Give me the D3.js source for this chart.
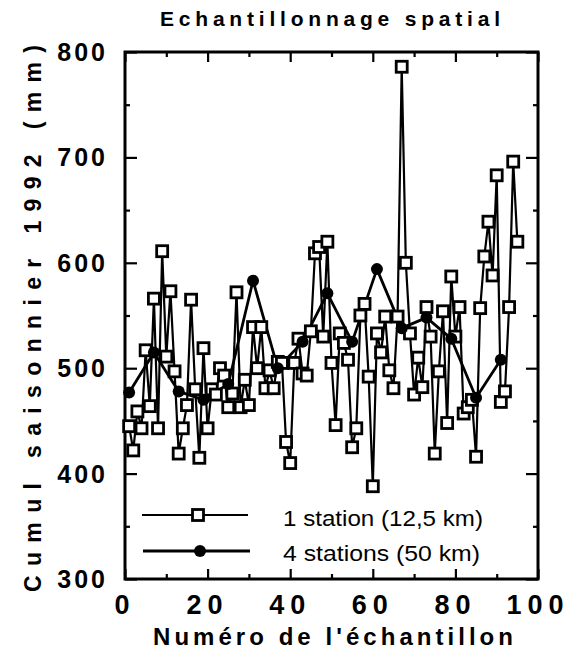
<!DOCTYPE html>
<html><head><meta charset="utf-8">
<script src="https://cdn.jsdelivr.net/npm/d3@7"></script>
<style>body{margin:0;background:#fff}svg{display:block}</style>
</head><body>
<script>
// ---- data ----
const title = "Echantillonnage  spatial";
const xTitle = "Numéro de l'échantillon";
const yTitle = "Cumul saisonnier 1992 (mm)";
const xTicks = [0, 20, 40, 60, 80, 100];
const xMinorTicks = [10, 30, 50, 70, 90];
const yTicks = [300, 400, 500, 600, 700, 800];
const yMinorTicks = [350, 450, 550, 650, 750];
const seriesNames = ["1 station (12,5 km)", "4 stations (50 km)"];
// 1 station: sample number 1..95
const oneStation = [445,422,459,443,517,464,566,443,611,511,573,497,419,443,465,565,480,415,519,443,
  480,475,500,493,463,476,572,463,489,465,539,500,539,481,498,481,506,505,430,410,
  505,528,495,493,535,609,615,530,620,505,446,533,524,508,425,443,550,561,492,388,
  533,515,549,498,481,549,786,600,533,475,510,482,558,530,419,497,554,448,587,530,
  558,457,463,470,416,557,606,639,588,683,468,478,558,696,620];
// 4 stations
const fourSamples = [1,7,13,19,25,31,37,43,49,55,61,67,73,79,85,91];
const fourStations = [477,515,478,470,485,583,500,525,571,525,594,538,548,528,472,508];

const W = 570, H = 656;
const svg = d3.select("body").append("svg").attr("width", W).attr("height", H);
const x = d3.scaleLinear().domain([0, 100]).range([125, 538]);
const y = d3.scaleLinear().domain([300, 800]).range([579, 52]);
const font = "'Liberation Sans', Arial, Helvetica, sans-serif";

// ticks (inward) on all four sides
function ticks(axis, tr) {
  const g = svg.append("g").attr("transform", tr).call(axis);
  g.select(".domain").remove();
  g.selectAll("text").remove();
  g.selectAll("line").attr("stroke", "#000").attr("stroke-width", 2.2);
}
ticks(d3.axisBottom(x).tickValues(xTicks).tickSize(-10), `translate(0,${y(300)})`);
ticks(d3.axisBottom(x).tickValues(xMinorTicks).tickSize(-5), `translate(0,${y(300)})`);
ticks(d3.axisTop(x).tickValues(xTicks).tickSize(-10), `translate(0,${y(800)})`);
ticks(d3.axisTop(x).tickValues(xMinorTicks).tickSize(-5), `translate(0,${y(800)})`);
ticks(d3.axisLeft(y).tickValues(yTicks).tickSize(-12), `translate(${x(0)},0)`);
ticks(d3.axisLeft(y).tickValues(yMinorTicks).tickSize(-5), `translate(${x(0)},0)`);
ticks(d3.axisRight(y).tickValues(yTicks).tickSize(-12), `translate(${x(100)},0)`);
ticks(d3.axisRight(y).tickValues(yMinorTicks).tickSize(-5), `translate(${x(100)},0)`);

// frame
svg.append("rect").attr("x", x(0)).attr("y", y(800))
  .attr("width", x(100) - x(0)).attr("height", y(300) - y(800))
  .attr("fill", "none").attr("stroke", "#000").attr("stroke-width", 3);

// tick labels
svg.selectAll(".ylab").data(yTicks).join("text")
  .attr("x", 108).attr("y", d => y(d)).attr("dy", "0.36em")
  .attr("text-anchor", "end").attr("font-family", font).attr("font-weight", "bold")
  .attr("font-size", 25).attr("letter-spacing", 3).text(d => d);
svg.selectAll(".xlab").data(xTicks).join("text")
  .attr("x", d => x(d)).attr("y", 614)
  .attr("text-anchor", "middle").attr("font-family", font).attr("font-weight", "bold")
  .attr("font-size", 27).attr("letter-spacing", 6).text(d => d);

// titles
svg.append("text").attr("x", 160).attr("y", 26).attr("font-family", font)
  .attr("font-weight", "bold").attr("font-size", 21)
  .attr("textLength", 340).attr("lengthAdjust", "spacing").text(title);
svg.append("text").attr("x", 153).attr("y", 645).attr("font-family", font)
  .attr("font-weight", "bold").attr("font-size", 24)
  .attr("textLength", 360).attr("lengthAdjust", "spacing").text(xTitle);
svg.append("text").attr("transform", "translate(41,592) rotate(-90)")
  .attr("font-family", font).attr("font-weight", "bold").attr("font-size", 23)
  .attr("textLength", 547).attr("lengthAdjust", "spacing").text(yTitle);

// series
const d1 = oneStation.map((v, i) => [i + 1, v]);
const d2 = fourSamples.map((s, i) => [s, fourStations[i]]);
const line = d3.line().x(d => x(d[0])).y(d => y(d[1]));
svg.append("path").datum(d1).attr("d", line).attr("fill", "none")
  .attr("stroke", "#000").attr("stroke-width", 2.2).attr("stroke-linejoin", "round");
svg.append("path").datum(d2).attr("d", line).attr("fill", "none")
  .attr("stroke", "#000").attr("stroke-width", 2.8).attr("stroke-linejoin", "round");
const sq = 11;
svg.selectAll(".sq").data(d1).join("rect")
  .attr("x", d => x(d[0]) - sq / 2).attr("y", d => y(d[1]) - sq / 2)
  .attr("width", sq).attr("height", sq)
  .attr("fill", "#fff").attr("stroke", "#000").attr("stroke-width", 2.8);
svg.selectAll(".ci").data(d2).join("circle")
  .attr("cx", d => x(d[0])).attr("cy", d => y(d[1])).attr("r", 6).attr("fill", "#000");

// legend
const lg = svg.append("g");
lg.append("line").attr("x1", 142).attr("x2", 248).attr("y1", 515).attr("y2", 515)
  .attr("stroke", "#000").attr("stroke-width", 2.2);
lg.append("rect").attr("x", 198 - sq / 2).attr("y", 515 - sq / 2).attr("width", sq).attr("height", sq)
  .attr("fill", "#fff").attr("stroke", "#000").attr("stroke-width", 2.8);
lg.append("line").attr("x1", 143).attr("x2", 250).attr("y1", 551).attr("y2", 551)
  .attr("stroke", "#000").attr("stroke-width", 2.8);
lg.append("circle").attr("cx", 200).attr("cy", 551).attr("r", 6).attr("fill", "#000");
lg.append("text").attr("x", 283).attr("y", 526).attr("font-family", font)
  .attr("font-size", 22).attr("textLength", 200).attr("lengthAdjust", "spacingAndGlyphs").text(seriesNames[0]);
lg.append("text").attr("x", 283).attr("y", 561).attr("font-family", font)
  .attr("font-size", 22).attr("textLength", 197).attr("lengthAdjust", "spacingAndGlyphs").text(seriesNames[1]);
</script>
</body></html>
